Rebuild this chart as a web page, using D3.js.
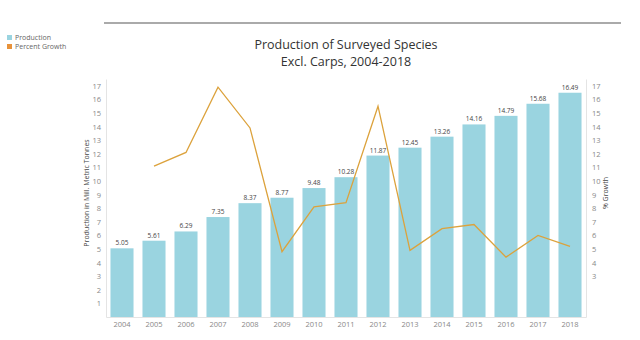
<!DOCTYPE html>
<html><head><meta charset="utf-8">
<script src="https://cdn.jsdelivr.net/npm/d3@7"></script>
<style>body{margin:0;background:#fff}svg{display:block;font-family:"Open Sans",Lato,sans-serif}</style>
</head><body>
<svg id="c" width="640" height="340"></svg>
<script>
const years = ["2004","2005","2006","2007","2008","2009","2010","2011","2012","2013","2014","2015","2016","2017","2018"];
const production = [5.05,5.61,6.29,7.35,8.37,8.77,9.48,10.28,11.87,12.45,13.26,14.16,14.79,15.68,16.49];
const growth = [null,11.1,12.1,16.9,13.9,4.8,8.1,8.4,15.5,4.9,6.5,6.8,4.4,6.0,5.2];
const yTicks = [1,2,3,4,5,6,7,8,9,10,11,12,13,14,15,16,17];
const rTicks = [3,4,5,6,7,8,9,10,11,12,13,14,15,16,17];
const seriesNames = ["Production","Percent Growth"];

const barColor = "#9ad4e0", lineColor = "#dca23c", growthLegend = "#e8923a";
const svg = d3.select("#c");
const L = 106, R = 586, T = 78, B = 317;
const x = d3.scaleBand().domain(years).range([L, R]).paddingInner(0.28).paddingOuter(0.14);
const y = d3.scaleLinear().domain([0, 17.5]).range([B, B - 17.5*13.6]);
const y2 = d3.scaleLinear().domain([0, 17.5]).range([B, B - 17.5*13.6]);

// top rule
svg.append("line").attr("x1",104).attr("x2",621).attr("y1",23).attr("y2",23).attr("stroke","#aaa").attr("stroke-width",2);

// title
svg.append("text").attr("x",346).attr("y",49).attr("text-anchor","middle").attr("font-size",12.5).attr("fill","#333").text("Production of Surveyed Species");
svg.append("text").attr("x",346).attr("y",66).attr("text-anchor","middle").attr("font-size",12.5).attr("fill","#333").text("Excl. Carps, 2004-2018");

// legend
const lg = svg.append("g").attr("font-size",7).attr("fill","#555");
[barColor, growthLegend].forEach((c,i)=>{
  lg.append("rect").attr("x",7).attr("y",35+i*9).attr("width",5).attr("height",5).attr("fill",c);
  lg.append("text").attr("x",15).attr("y",40+i*9).attr("fill","#666").text(seriesNames[i]);
});

// bars
svg.append("g").selectAll("rect").data(years).join("rect")
  .attr("x", d=>x(d)).attr("width", x.bandwidth())
  .attr("y", (d,i)=>y(production[i])).attr("height",(d,i)=>B - y(production[i]))
  .attr("fill", barColor);
svg.append("g").selectAll("text").data(years).join("text")
  .attr("x", d=>x(d)+x.bandwidth()/2).attr("y",(d,i)=>y(production[i])-3)
  .attr("text-anchor","middle").attr("font-size",6.5).attr("fill","#444")
  .text((d,i)=>production[i].toFixed(2));

// line
const line = d3.line().defined(d=>d.v!=null).x(d=>x(d.k)+x.bandwidth()/2).y(d=>y2(d.v));
svg.append("path").datum(years.map((k,i)=>({k, v:growth[i]})))
  .attr("d", line).attr("fill","none").attr("stroke", lineColor).attr("stroke-width",1.3);

// axes
const styleAxis = g => { g.select(".domain").attr("stroke","#e4e4e4"); g.selectAll(".tick line").remove(); g.selectAll("text").attr("fill","#888").attr("font-size",7.5).attr("font-family","'Open Sans',Lato,sans-serif"); };
svg.append("g").attr("transform",`translate(${L},0)`).call(d3.axisLeft(y).tickValues(yTicks).tickSize(0).tickPadding(5)).call(styleAxis);
svg.append("g").attr("transform",`translate(${R},0)`).call(d3.axisRight(y2).tickValues(rTicks).tickSize(0).tickPadding(6)).call(styleAxis);
svg.append("g").attr("transform",`translate(0,${B})`).call(d3.axisBottom(x).tickSize(0).tickPadding(5)).call(styleAxis);

// axis titles
svg.append("text").attr("transform","translate(89,193) rotate(-90)").attr("text-anchor","middle").attr("font-size",7).attr("fill","#444").text("Production in Mill. Metric Tonnes");
svg.append("text").attr("transform","translate(608,193) rotate(-90)").attr("text-anchor","middle").attr("font-size",7).attr("fill","#444").text("% Growth");
</script>
</body></html>
